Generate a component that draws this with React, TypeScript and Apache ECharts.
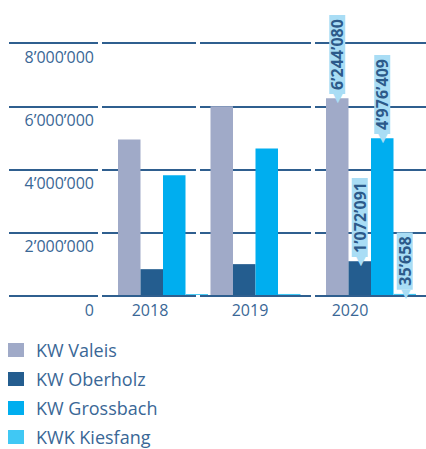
import React, { useEffect, useRef } from "react";
import * as echarts from "echarts";

// ---- data ----
const years = ["2018", "2019", "2020"];
const seriesNames = ["KW Valeis", "KW Oberholz", "KW Grossbach", "KWK Kiesfang"];
const valeis = [4940000, 5990000, 6244080];
const oberholz = [820000, 980000, 1072091];
const grossbach = [3800000, 4650000, 4976409];
const kiesfang = [30000, 33000, 35658];
const yMin = 0;
const yMax = 8000000;
const yInterval = 2000000;
const labeledYear = "2020";

// ---- styles / layout ----
const colors = ["#a0aac8", "#245d8f", "#00aeef", "#40c8f4"];
const lineColor = "#2f5f8f";
const textColor = "#3a6796";
const labelBg = "#a9ddf5";
const labelText = "#2c5a8a";
const FONT = "'Open Sans', sans-serif";

const fmt = (n: number) =>
  String(Math.round(n)).replace(/\B(?=(\d{3})+(?!\d))/g, "\u2019");

const TOP = 43;
const LINE_BOTTOM = 449 - 296;
const BAR_BOTTOM = 449 - 295;
const yLabelSeg = { left: 9, width: 89 };
const lineSegs = [
  { left: 102, width: 94 },
  { left: 200, width: 111 },
  { left: 315, width: 111 },
];
const barGroups = [
  { left: 118, width: 90 },
  { left: 210.5, width: 90 },
  { left: 326, width: 90 },
];

export default function App() {
  const ref = useRef<HTMLDivElement>(null);
  useEffect(() => {
    document.body.style.margin = "0";
    if (!ref.current) return;
    const chart = echarts.init(ref.current, undefined, { renderer: "svg" });
    const values = [valeis, oberholz, grossbach, kiesfang];

    const grids: any[] = [];
    const xAxes: any[] = [];
    const yAxes: any[] = [];
    const series: any[] = [];

    const splitLine = { show: true, lineStyle: { color: lineColor, width: 2 } };

    // grid 0: y labels + first segment
    grids.push({ left: yLabelSeg.left, width: yLabelSeg.width, top: TOP, bottom: LINE_BOTTOM });
    xAxes.push({ gridIndex: 0, type: "category", data: [""], show: false });
    yAxes.push({
      gridIndex: 0,
      type: "value",
      min: yMin,
      max: yMax,
      interval: yInterval,
      position: "right",
      axisLine: { show: false },
      axisTick: { show: false },
      splitLine,
      axisLabel: {
        inside: true,
        margin: 4,
        verticalAlign: "top",
        lineHeight: 27,
        fontSize: 16,
        fontFamily: FONT,
        color: textColor,
        formatter: (v: number) => fmt(v),
      },
    });

    // line segment grids
    lineSegs.forEach((s) => {
      const gi = grids.length;
      grids.push({ left: s.left, width: s.width, top: TOP, bottom: LINE_BOTTOM });
      xAxes.push({ gridIndex: gi, type: "category", data: [""], show: false });
      yAxes.push({
        gridIndex: gi,
        type: "value",
        min: yMin,
        max: yMax,
        interval: yInterval,
        axisLine: { show: false },
        axisTick: { show: false },
        axisLabel: { show: false },
        splitLine,
      });
    });

    // bar grids
    years.forEach((yr, i) => {
      const gi = grids.length;
      const g = barGroups[i];
      grids.push({ left: g.left, width: g.width, top: TOP, bottom: BAR_BOTTOM });
      xAxes.push({ gridIndex: gi, type: "category", data: [yr], show: false });
      yAxes.push({
        gridIndex: gi,
        type: "value",
        min: yMin,
        max: yMax,
        interval: yInterval,
        show: false,
        splitLine: { show: false },
      });
      seriesNames.forEach((name, k) => {
        const v = values[k][i];
        series.push({
          type: "bar",
          name,
          xAxisIndex: gi,
          yAxisIndex: gi,
          data: [v],
          barGap: "0%",
          barCategoryGap: "0%",
          itemStyle: { color: colors[k] },
          label:
            yr === labeledYear
              ? {
                  show: true,
                  position: "top",
                  rotate: 90,
                  align: "left",
                  verticalAlign: "middle",
                  distance: -5,
                  formatter: () => "{a|\u25C0}{b|" + fmt(v) + "}",
                  rich: {
                    a: {
                      fontSize: 12,
                      color: labelBg,
                      fontFamily: "DejaVu Sans",
                      lineHeight: 20,
                    },
                    b: {
                      fontSize: 16,
                      fontWeight: "bold",
                      fontFamily: FONT,
                      color: labelText,
                      backgroundColor: labelBg,
                      lineHeight: 20,
                      padding: [0, 4, 0, 4],
                    },
                  },
                }
              : { show: false },
        });
      });
    });

    // year labels grid
    const gy = grids.length;
    grids.push({ left: 100, width: 300, top: TOP, bottom: LINE_BOTTOM });
    xAxes.push({
      gridIndex: gy,
      type: "category",
      data: years,
      axisLine: { show: false },
      axisTick: { show: false },
      axisLabel: { margin: 6, fontSize: 16, fontFamily: FONT, color: textColor },
    });
    yAxes.push({ gridIndex: gy, type: "value", min: yMin, max: yMax, show: false, splitLine: { show: false } });

    chart.setOption({
      animation: false,
      grid: grids,
      xAxis: xAxes,
      yAxis: yAxes,
      legend: {
        data: seriesNames,
        orient: "vertical",
        left: 8,
        top: 341,
        padding: 0,
        icon: "rect",
        itemWidth: 16,
        itemHeight: 14,
        itemGap: 11,
        textStyle: {
          fontSize: 18,
          lineHeight: 18,
          fontFamily: FONT,
          color: textColor,
          padding: [0, 0, 0, 7],
        },
      },
      series,
    });
    return () => chart.dispose();
  }, []);
  return <div ref={ref} style={{ width: 426, height: 449 }} />;
}
